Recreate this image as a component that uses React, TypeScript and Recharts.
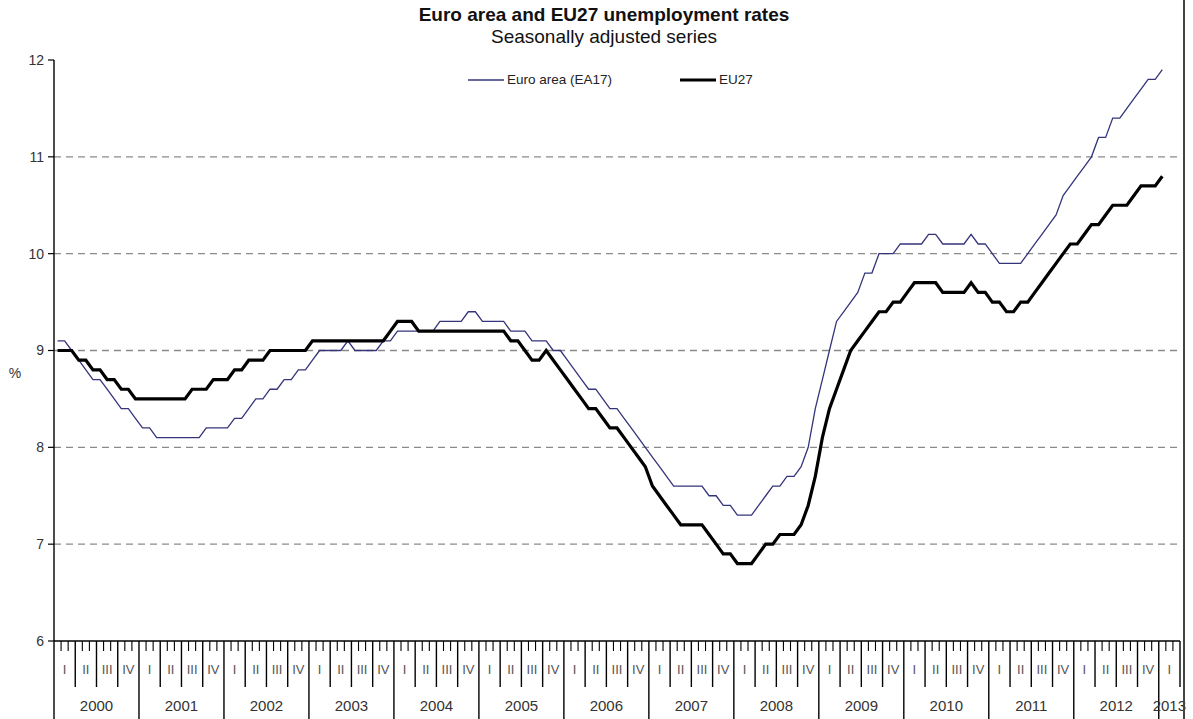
import React from 'react';
import { LineChart, Line, XAxis, YAxis, CartesianGrid, Legend } from 'recharts';

const FONT = "'Liberation Sans', Arial, Helvetica, sans-serif";

const TITLE = 'Euro area and EU27 unemployment rates';
const SUBTITLE = 'Seasonally adjusted series';

const YEARS = ['2000', '2001', '2002', '2003', '2004', '2005', '2006', '2007', '2008', '2009', '2010', '2011', '2012', '2013'];
const QUARTERS = ['I', 'II', 'III', 'IV'];
const Y_TICKS = [6, 7, 8, 9, 10, 11, 12];
const GRID_VALUES = [7, 8, 9, 10, 11];
const MONTHS_ON_AXIS = 159; // Jan 2000 .. Mar 2013

// Monthly values, Jan 2000 .. Jan 2013
const EA17 = [
  9.1, 9.1, 9.0, 8.9, 8.8, 8.7, 8.7, 8.6, 8.5, 8.4, 8.4, 8.3,
  8.2, 8.2, 8.1, 8.1, 8.1, 8.1, 8.1, 8.1, 8.1, 8.2, 8.2, 8.2,
  8.2, 8.3, 8.3, 8.4, 8.5, 8.5, 8.6, 8.6, 8.7, 8.7, 8.8, 8.8,
  8.9, 9.0, 9.0, 9.0, 9.0, 9.1, 9.0, 9.0, 9.0, 9.0, 9.1, 9.1,
  9.2, 9.2, 9.2, 9.2, 9.2, 9.2, 9.3, 9.3, 9.3, 9.3, 9.4, 9.4,
  9.3, 9.3, 9.3, 9.3, 9.2, 9.2, 9.2, 9.1, 9.1, 9.1, 9.0, 9.0,
  8.9, 8.8, 8.7, 8.6, 8.6, 8.5, 8.4, 8.4, 8.3, 8.2, 8.1, 8.0,
  7.9, 7.8, 7.7, 7.6, 7.6, 7.6, 7.6, 7.6, 7.5, 7.5, 7.4, 7.4,
  7.3, 7.3, 7.3, 7.4, 7.5, 7.6, 7.6, 7.7, 7.7, 7.8, 8.0, 8.4,
  8.7, 9.0, 9.3, 9.4, 9.5, 9.6, 9.8, 9.8, 10.0, 10.0, 10.0, 10.1,
  10.1, 10.1, 10.1, 10.2, 10.2, 10.1, 10.1, 10.1, 10.1, 10.2, 10.1, 10.1,
  10.0, 9.9, 9.9, 9.9, 9.9, 10.0, 10.1, 10.2, 10.3, 10.4, 10.6, 10.7,
  10.8, 10.9, 11.0, 11.2, 11.2, 11.4, 11.4, 11.5, 11.6, 11.7, 11.8, 11.8,
  11.9,
];

const EU27 = [
  9.0, 9.0, 9.0, 8.9, 8.9, 8.8, 8.8, 8.7, 8.7, 8.6, 8.6, 8.5,
  8.5, 8.5, 8.5, 8.5, 8.5, 8.5, 8.5, 8.6, 8.6, 8.6, 8.7, 8.7,
  8.7, 8.8, 8.8, 8.9, 8.9, 8.9, 9.0, 9.0, 9.0, 9.0, 9.0, 9.0,
  9.1, 9.1, 9.1, 9.1, 9.1, 9.1, 9.1, 9.1, 9.1, 9.1, 9.1, 9.2,
  9.3, 9.3, 9.3, 9.2, 9.2, 9.2, 9.2, 9.2, 9.2, 9.2, 9.2, 9.2,
  9.2, 9.2, 9.2, 9.2, 9.1, 9.1, 9.0, 8.9, 8.9, 9.0, 8.9, 8.8,
  8.7, 8.6, 8.5, 8.4, 8.4, 8.3, 8.2, 8.2, 8.1, 8.0, 7.9, 7.8,
  7.6, 7.5, 7.4, 7.3, 7.2, 7.2, 7.2, 7.2, 7.1, 7.0, 6.9, 6.9,
  6.8, 6.8, 6.8, 6.9, 7.0, 7.0, 7.1, 7.1, 7.1, 7.2, 7.4, 7.7,
  8.1, 8.4, 8.6, 8.8, 9.0, 9.1, 9.2, 9.3, 9.4, 9.4, 9.5, 9.5,
  9.6, 9.7, 9.7, 9.7, 9.7, 9.6, 9.6, 9.6, 9.6, 9.7, 9.6, 9.6,
  9.5, 9.5, 9.4, 9.4, 9.5, 9.5, 9.6, 9.7, 9.8, 9.9, 10.0, 10.1,
  10.1, 10.2, 10.3, 10.3, 10.4, 10.5, 10.5, 10.5, 10.6, 10.7, 10.7, 10.7,
  10.8,
];

const SERIES = [
  { key: 'ea', name: 'Euro area (EA17)', color: '#34347a', width: 1.3 },
  { key: 'eu', name: 'EU27', color: '#000000', width: 3.2 },
];

const data = EA17.map((v, i) => ({ t: i + 0.5, ea: v, eu: EU27[i] }));
const monthTicks = Array.from({ length: MONTHS_ON_AXIS + 1 }, (_, i) => i);
const quarterTicks = Array.from({ length: MONTHS_ON_AXIS / 3 }, (_, k) => 3 * k + 1.5);
const yearTicks = YEARS.map((_, k) => (k < YEARS.length - 1 ? 12 * k + 6 : (12 * k + MONTHS_ON_AXIS) / 2));

const MonthTick = (props: any) => {
  const { x, y, payload } = props;
  const v = payload.value;
  const len = v % 12 === 0 ? 78 : v % 3 === 0 ? 46 : 10;
  return (
    <line x1={x} x2={x} y1={y} y2={y + len} stroke="#000" strokeWidth={v % 3 === 0 ? 1.4 : 1.1} />
  );
};

const PercentLabel = (props: any) => {
  const vb = props.viewBox || { x: 14, y: 60, width: 40, height: 581 };
  return (
    <text x={vb.x + 1} y={vb.y + vb.height / 2 + 22} textAnchor="middle" dominantBaseline="central"
      fontSize={14} fill="#333" fontFamily={FONT}>%</text>
  );
};

const LegendContent = (props: any) => {
  const payload = props.payload || [];
  const items = SERIES.filter((s) => payload.length === 0 || payload.some((p: any) => p.value === s.name));
  return (
    <div style={{ display: 'flex', alignItems: 'center', fontFamily: FONT, fontSize: 13.5, color: '#222', lineHeight: '16px' }}>
      {items.map((s, i) => (
        <div key={s.key} style={{ display: 'flex', alignItems: 'center', width: i === 0 ? 212 : 'auto' }}>
          <svg width={36} height={10} style={{ display: 'block' }}>
            <line x1={0} x2={36} y1={5} y2={5} stroke={s.color} strokeWidth={s.width} />
          </svg>
          <span style={{ marginLeft: 3 }}>{s.name}</span>
        </div>
      ))}
    </div>
  );
};

export default function App() {
  return (
    <div style={{ position: 'absolute', left: 0, top: 0, width: 1193, height: 719, background: '#fff', overflow: 'hidden' }}>
      <svg width={1193} height={60} style={{ position: 'absolute', left: 0, top: 0 }}>
        <text x={604} y={21} textAnchor="middle" fontFamily={FONT} fontWeight="bold" fontSize={19} fill="#111">{TITLE}</text>
        <text x={604} y={43} textAnchor="middle" fontFamily={FONT} fontSize={19} fill="#111">{SUBTITLE}</text>
      </svg>
      <div style={{ position: 'absolute', left: 0, top: 0 }}>
        <LineChart width={1193} height={719} data={data} margin={{ top: 60, right: 13, bottom: 0, left: 14 }}>
          <CartesianGrid xAxisId="m" horizontal vertical={false} horizontalValues={GRID_VALUES}
            stroke="#8a8a8a" strokeDasharray="7 5" strokeWidth={1.3} />
          <XAxis xAxisId="m" dataKey="t" type="number" domain={[0, MONTHS_ON_AXIS]} ticks={monthTicks} interval={0}
            height={10} tickSize={0} tickMargin={0} tickLine={false} tick={<MonthTick />}
            axisLine={{ stroke: '#000', strokeWidth: 1.6 }} allowDecimals />
          <XAxis xAxisId="q" dataKey="t" type="number" domain={[0, MONTHS_ON_AXIS]} ticks={quarterTicks} interval={0}
            height={35} tickSize={0} tickMargin={14} tickLine={false} axisLine={false}
            tickFormatter={(v: number) => QUARTERS[Math.floor(v / 3) % 4]}
            tick={{ fontSize: 13, fill: '#555', fontFamily: FONT }} allowDecimals />
          <XAxis xAxisId="y" dataKey="t" type="number" domain={[0, MONTHS_ON_AXIS]} ticks={yearTicks} interval={0}
            height={33} tickSize={0} tickMargin={14} tickLine={false} axisLine={false}
            tickFormatter={(v: number) => YEARS[Math.floor(v / 12)]}
            tick={{ fontSize: 15, fill: '#333', fontFamily: FONT }} allowDecimals />
          <YAxis domain={[6, 12]} ticks={Y_TICKS} interval={0} width={40} tickSize={6} tickMargin={4}
            axisLine={{ stroke: '#000', strokeWidth: 1.4 }} tickLine={{ stroke: '#000', strokeWidth: 1.2 }}
            tick={{ fontSize: 14, fill: '#333', fontFamily: FONT }} label={<PercentLabel />} />
          <Legend layout="horizontal" verticalAlign="middle" align="center" content={<LegendContent />}
            wrapperStyle={{ top: 72, left: 468, width: 'auto' }} />
          {SERIES.map((s) => (
            <Line key={s.key} xAxisId="m" type="linear" dataKey={s.key} name={s.name} stroke={s.color}
              strokeWidth={s.width} dot={false} activeDot={false} isAnimationActive={false} />
          ))}
        </LineChart>
      </div>
      <div style={{ position: 'absolute', left: 1183, top: 0, width: 1.5, height: 719, background: '#444' }} />
    </div>
  );
}
